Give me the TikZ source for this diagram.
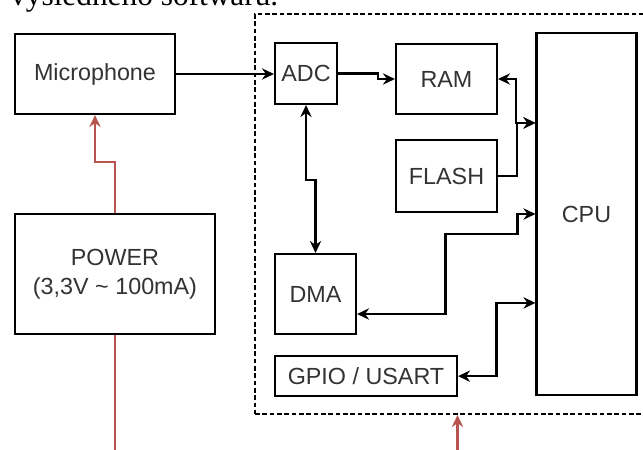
\documentclass[tikz,border=0pt]{standalone}
\usepackage{fontspec}
\setmainfont{Liberation Sans}
\newfontfamily\docfont{Liberation Serif}
\usepackage{tikz}
\usetikzlibrary{arrows.meta, positioning, calc}
\definecolor{pwrred}{HTML}{B85450}

\begin{document}
\begin{tikzpicture}[
        x=0.75pt, y=-0.75pt,
        hd/.tip={Stealth[length=9pt, width=8.5pt, inset=3pt]},
        box/.style={draw, line width=1.6pt, inner sep=2pt, text=black!80,
                    font=\fontsize{17.5}{21.5}\selectfont, align=center},
        group/.style={draw, line width=1.6pt, dash pattern=on 3.5pt off 2pt},
        arr/.style={-hd, line width=1.6pt},
        arr2/.style={hd-hd, line width=1.6pt},
        pline/.style={line width=1.6pt, color=pwrred},
        parr/.style={-hd, line width=1.6pt, color=pwrred}
      ]
        \useasboundingbox (0,0) rectangle (643,450);
        \clip (0,0) rectangle (643,450);
        % text of the page above the figure
        \node[anchor=base west, inner sep=0pt,
              font=\docfont\fontsize{23.5}{28}\selectfont] (cap) at (10,5.5)
              {výsledného softwaru.};
        % microcontroller
        \node[group, minimum width=303.75pt, minimum height=300pt] (mcu) at (457.5,214) {};
        \node[box, minimum width=120pt, minimum height=60pt] (mic) at (95,74) {Microphone};
        \node[box, minimum width=150pt, minimum height=90pt] (pwr) at (115,274)
              {POWER\\(3,3V \textasciitilde{} 100mA)};
        \node[box, minimum width=46.5pt, minimum height=45.75pt] (adc) at (306,73.5) {ADC};
        \node[box, minimum width=75.75pt, minimum height=52.5pt] (ram) at (446.5,79) {RAM};
        \node[box, minimum width=75.75pt, minimum height=54pt] (flash) [below=18pt of ram] {FLASH};
        \node[box, minimum width=75pt, minimum height=271.5pt] (cpu) at (586.5,214) {CPU};
        \node[box, minimum width=60.75pt, minimum height=60pt] (dma) at (315.5,294) {DMA};
        \node[box, minimum width=136.5pt, minimum height=30pt] (gpio)
              [below right=15pt and 0pt of dma.south west] {GPIO / USART};
        \coordinate (pwrout) at (115,450);
        \coordinate (vin) at (457.5,450);
        % signal path
        \draw[arr]  (mic.east) -- (mic.east -| adc.west);
        \draw[arr]  (adc.east) -- ++(40,0) |- (ram.west);
        \draw[arr2] (adc.south) -- ++(0,75) -| (dma.north);
        \draw[arr2] (ram.east) -- ++(18,0) |- ($(cpu.north west)+(0,91)$);
        \draw[arr]  (flash.east) -- ++(19,0) |- ($(cpu.north west)+(0,91)$);
        \draw[arr2] (cpu.west) -- ++(-18,0) -- ++(0,20) -- ++(-72,0)
                    |- ($(dma.east)+(0,20)$);
        \draw[arr2] ($(cpu.north west)+(0,271)$) -- ++(-39,0) |- (gpio.east);
        % supply
        \draw[parr]  (pwr.north) -- ++(0,-51) -| (mic.south);
        \draw[pline] (pwr.south) -- (pwrout);
        \draw[parr]  (vin) -- (mcu.south);
\end{tikzpicture}
\end{document}
